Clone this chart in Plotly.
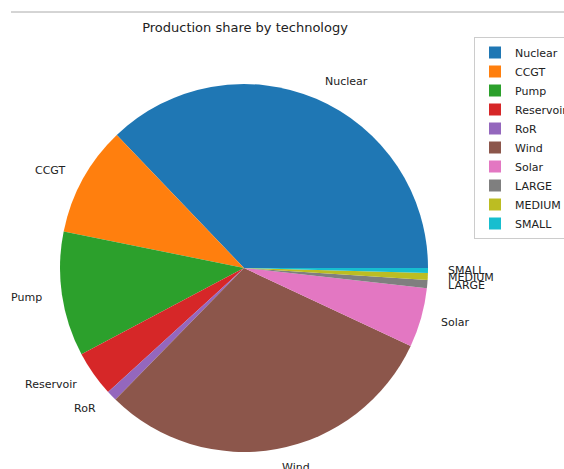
import math
import plotly.graph_objects as go

labels = ["Nuclear", "CCGT", "Pump", "Reservoir", "RoR", "Wind", "Solar", "LARGE", "MEDIUM", "SMALL"]
values = [37.15, 9.66, 10.95, 4.01, 0.91, 30.35, 5.21, 0.71, 0.61, 0.43]
colors = ["#1f77b4", "#ff7f0e", "#2ca02c", "#d62728", "#9467bd",
          "#8c564b", "#e377c2", "#7f7f7f", "#bcbd22", "#17becf"]

W, H = 564, 469
cx, cy, r = 244, 268, 184  # pie centre / radius in pixels


def px2x(x):
    return x / W


def px2y(y):
    return 1 - y / H


total = sum(values)
first_deg = 360 * values[0] / total

fig = go.Figure(go.Pie(
    labels=labels, values=values, sort=False,
    direction="counterclockwise", rotation=90 - first_deg,
    marker=dict(colors=colors, line=dict(width=0)),
    textinfo="none", hoverinfo="label+percent",
    domain=dict(x=[(cx - r) / W, (cx + r) / W],
                y=[1 - (cy + r) / H, 1 - (cy - r) / H]),
))

# matplotlib-style outside labels at 1.1 * radius
cum = 0.0
annotations = []
for lab, v in zip(labels, values):
    mid = (cum + v / 2) / total * 2 * math.pi
    cum += v
    fx = cx + 1.1 * r * math.cos(mid)
    fy = cy - 1.1 * r * math.sin(mid)
    annotations.append(dict(
        x=fx / W, y=1 - fy / H, xref="paper", yref="paper",
        text=lab, showarrow=False,
        xanchor="left" if math.cos(mid) > 0 else "right", yanchor="middle",
        font=dict(family="DejaVu Sans", size=11, color="#222"),
    ))

fig.update_layout(
    width=W, height=H,
    margin=dict(l=0, r=0, t=0, b=0, pad=0, autoexpand=False),
    paper_bgcolor="white", plot_bgcolor="white",
    title=dict(text="Production share by technology", x=px2x(245), xanchor="center",
               y=px2y(27), yanchor="middle",
               font=dict(family="DejaVu Sans", size=13, color="#222")),
    annotations=annotations,
    legend=dict(x=px2x(474), y=px2y(37), xanchor="left", yanchor="top",
                bordercolor="#cccccc", borderwidth=1, bgcolor="white",
                font=dict(family="DejaVu Sans", size=11, color="#222"),
                traceorder="normal"),
    shapes=[dict(type="line", xref="paper", yref="paper",
                 x0=px2x(11), x1=1, y0=px2y(12), y1=px2y(12),
                 line=dict(color="#aaaaaa", width=1))],
)

fig.write_html("out.html",
               config={"displayModeBar": False},
               post_script="document.body.style.margin='0';document.body.style.overflow='hidden';")
